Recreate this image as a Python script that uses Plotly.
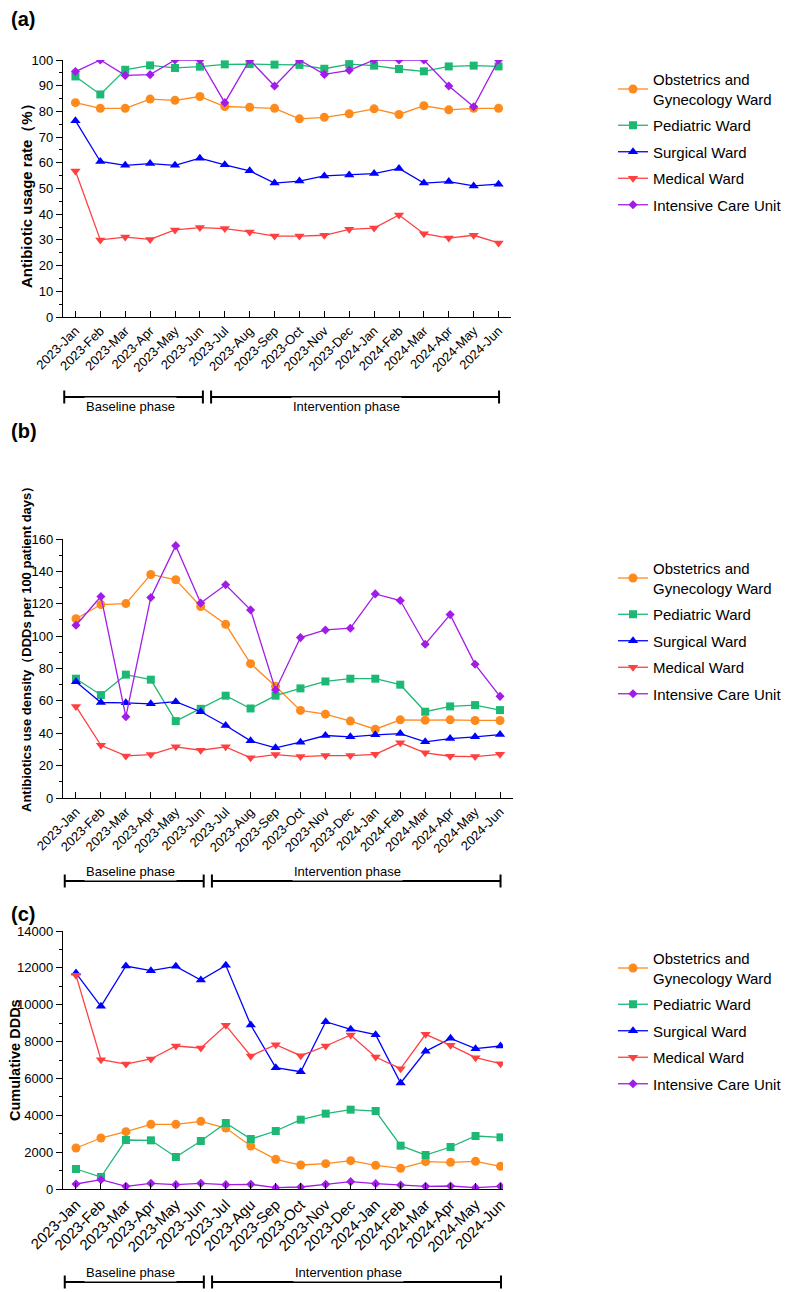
import plotly.graph_objects as go

W, H = 789, 1292
PAGE_OFF = 8  # default body margin of the html page

months_ab = ['2023-Jan', '2023-Feb', '2023-Mar', '2023-Apr', '2023-May', '2023-Jun',
             '2023-Jul', '2023-Aug', '2023-Sep', '2023-Oct', '2023-Nov', '2023-Dec',
             '2024-Jan', '2024-Feb', '2024-Mar', '2024-Apr', '2024-May', '2024-Jun']
# panel (c) labels as printed in the source (incl. "Agu")
months_c = ['2023-Jan', '2023-Feb', '2023-Mar', '2023-Apr', '2023-May', '2023-Jun',
            '2023-Jul', '2023-Agu', '2023-Sep', '2023-Oct', '2023-Nov', '2023-Dec',
            '2024-Jan', '2024-Feb', '2024-Mar', '2024-Apr', '2024-May', '2024-Jun']

wards = ['Obstetrics and<br>Gynecology Ward', 'Pediatric Ward', 'Surgical Ward',
         'Medical Ward', 'Intensive Care Unit']

# (a) antibiotic usage rate, %
rate_og = [83.4, 81.2, 81.2, 84.8, 84.3, 85.8, 81.9, 81.6, 81.2, 77.1, 77.7, 79.1,
           81.0, 78.8, 82.2, 80.6, 81.2, 81.2]
rate_ped = [93.6, 86.6, 96.2, 97.9, 96.9, 97.4, 98.3, 98.4, 98.2, 98.1, 96.6, 98.4,
            97.8, 96.5, 95.6, 97.5, 97.8, 97.5]
rate_surg = [76.4, 60.5, 59.0, 59.7, 59.0, 61.8, 59.2, 56.9, 52.1, 52.9, 54.9, 55.3,
             55.8, 57.8, 52.1, 52.7, 51.0, 51.7]
rate_med = [56.8, 30.0, 31.1, 30.2, 33.9, 34.8, 34.4, 33.1, 31.5, 31.5, 31.8, 34.1,
            34.6, 39.7, 32.4, 30.7, 31.8, 28.8]
rate_icu = [95.5, 100, 94.0, 94.3, 100, 100, 83.4, 100, 89.9, 100, 94.4, 96.0,
            100, 100, 100, 89.9, 81.8, 100]

# (b) antibiotics use density, DDDs per 100 patient days
dens_og = [110.7, 119.5, 120.1, 138.1, 134.8, 118.3, 107.3, 83.0, 69.0, 54.1, 51.8, 47.5,
           42.5, 48.3, 48.1, 48.3, 47.9, 47.9]
dens_ped = [73.7, 63.6, 76.2, 73.1, 47.5, 55.1, 63.2, 55.3, 63.2, 67.7, 72.0, 73.7,
            73.7, 70.0, 53.3, 56.6, 57.4, 54.3]
dens_surg = [71.8, 59.0, 58.8, 58.2, 59.5, 53.3, 44.8, 35.3, 31.0, 34.5, 38.6, 37.8,
             39.0, 39.8, 34.7, 36.7, 37.8, 39.2]
dens_med = [56.6, 32.6, 26.0, 26.8, 31.6, 29.5, 31.6, 24.8, 26.8, 25.6, 26.2, 26.2,
            27.0, 34.1, 27.9, 25.8, 25.6, 27.0]
dens_icu = [106.7, 124.5, 50.2, 123.9, 155.9, 120.4, 131.7, 116.2, 66.7, 99.1, 103.8, 104.9,
            126.1, 122.0, 95.0, 113.3, 82.6, 62.8]

# (c) cumulative DDDs
ddd_og = [2225, 2767, 3111, 3509, 3509, 3672, 3310, 2333, 1610, 1302, 1375, 1537,
          1284, 1121, 1483, 1447, 1501, 1230]
ddd_ped = [1085, 651, 2659, 2641, 1736, 2604, 3581, 2713, 3147, 3762, 4088, 4305,
           4232, 2351, 1845, 2279, 2876, 2803]
ddd_surg = [11720, 9911, 12100, 11847, 12082, 11340, 12136, 8898, 6583, 6366, 9079, 8663,
            8374, 5751, 7470, 8175, 7614, 7759]
ddd_med = [11593, 7017, 6782, 7054, 7759, 7650, 8880, 7216, 7831, 7234, 7759, 8356,
           7162, 6529, 8392, 7795, 7126, 6800]
ddd_icu = [271, 506, 145, 307, 235, 307, 235, 253, 72, 109, 253, 398,
           289, 217, 145, 163, 72, 145]

colors = ['#FF8A1C', '#1DB874', '#0000FF', '#FF4040', '#A21CE8']
symbols = ['circle', 'square', 'triangle-up', 'triangle-down', 'diamond']
msizes = [9, 8, 9, 9, 7]

FONT = 'Liberation Sans, Arial, sans-serif'


def px_x(p):
    return (p - PAGE_OFF) / W


def px_y(p):
    return 1 - (p - PAGE_OFF) / H


panels = [
    dict(labels=months_ab, series=[rate_og, rate_ped, rate_surg, rate_med, rate_icu],
         dom_x=(63, 511), dom_y=(60, 317), xr=[-0.5, 17.5], yr=[0, 100], dtick=10, minor=5,
         xfont=13, title='Antibiotic usage rate（%）', tsize=15, tx=27, ty=192,
         tag='(a)', tag_y=19, leg_y=63, phase_y=397),
    dict(labels=months_ab, series=[dens_og, dens_ped, dens_surg, dens_med, dens_icu],
         dom_x=(63, 513), dom_y=(539, 798), xr=[-0.52, 17.52], yr=[0, 160], dtick=20, minor=10,
         xfont=13, title='Antibiotics use density（DDDs per 100 patient days）', tsize=13,
         tx=27, ty=646, tag='(b)', tag_y=431, leg_y=552, phase_y=881),
    dict(labels=months_c, series=[ddd_og, ddd_ped, ddd_surg, ddd_med, ddd_icu],
         dom_x=(63, 503), dom_y=(931, 1189), xr=[-0.52, 17.1], yr=[0, 14000], dtick=2000, minor=1000,
         xfont=15, title='Cumulative DDDs', tsize=14.5, tx=15, ty=1060,
         tag='(c)', tag_y=914, leg_y=942, phase_y=1282),
]

fig = go.Figure()
layout = dict(width=W, height=H, margin=dict(l=0, r=0, t=0, b=0, autoexpand=False),
              paper_bgcolor='white', plot_bgcolor='white',
              font=dict(family=FONT, size=13, color='black'))
annotations = []
shapes = []

for i, p in enumerate(panels):
    n = '' if i == 0 else str(i + 1)
    leg = 'legend' + n
    for k in range(5):
        fig.add_trace(go.Scatter(
            x=p['labels'], y=p['series'][k], name=wards[k],
            mode='lines+markers', xaxis='x' + n, yaxis='y' + n,
            legend=leg, legendgroup=f'{i}-{k}',
            line=dict(color=colors[k], width=1.3),
            marker=dict(symbol=symbols[k], size=msizes[k], color=colors[k]),
        ))

    layout['xaxis' + n] = dict(
        domain=[px_x(p['dom_x'][0]), px_x(p['dom_x'][1])], anchor='y' + n, automargin=False,
        type='category', range=p['xr'], showline=True, linecolor='black', linewidth=1.3,
        ticks='inside', ticklen=6, tickcolor='black', tickwidth=1.2, tickangle=-45,
        tickfont=dict(size=p['xfont']), showgrid=False, zeroline=False, fixedrange=True)
    layout['yaxis' + n] = dict(
        domain=[px_y(p['dom_y'][1]), px_y(p['dom_y'][0])], anchor='x' + n, automargin=False,
        range=p['yr'], dtick=p['dtick'], tickformat='d', showline=True, linecolor='black',
        linewidth=1.3, ticks='outside', ticklen=6, tickcolor='black', tickwidth=1.2,
        minor=dict(dtick=p['minor'], ticks='outside', ticklen=3, tickcolor='black', tickwidth=1.2),
        tickfont=dict(size=13), showgrid=False, zeroline=False, fixedrange=True)

    layout[leg] = dict(x=px_x(613), y=px_y(p['leg_y']), xanchor='left', yanchor='top',
                       font=dict(size=15), tracegroupgap=4, bgcolor='rgba(0,0,0,0)')

    # axis title and panel tag
    annotations.append(dict(text='<b>' + p['title'] + '</b>', textangle=-90,
                            x=px_x(p['tx']), y=px_y(p['ty']), xref='paper', yref='paper',
                            xanchor='center', yanchor='middle',
                            showarrow=False, font=dict(size=p['tsize'])))
    annotations.append(dict(text='<b>' + p['tag'] + '</b>', x=px_x(9), y=px_y(p['tag_y']),
                            xref='paper', yref='paper', xanchor='left', yanchor='middle',
                            showarrow=False, font=dict(size=20)))

    # phase brackets under the axis
    yl = px_y(p['phase_y'])
    cap = 6.5 / H
    for x0, x1, txt, xt in [(-0.45, 5.12, 'Baseline phase', 2.2),
                            (5.45, 17.02, 'Intervention phase', 10.9)]:
        shapes.append(dict(type='line', xref='x' + n, yref='paper', x0=x0, x1=x1, y0=yl, y1=yl,
                           line=dict(color='black', width=2)))
        for xc in (x0, x1):
            shapes.append(dict(type='line', xref='x' + n, yref='paper', x0=xc, x1=xc,
                               y0=yl - cap, y1=yl + cap, line=dict(color='black', width=2)))
        annotations.append(dict(text=txt, xref='x' + n, yref='paper', x=xt, y=yl,
                                showarrow=False, bgcolor='white', borderpad=1,
                                font=dict(size=13)))

layout['annotations'] = annotations
layout['shapes'] = shapes
fig.update_layout(**layout)

fig.write_html("out.html")
